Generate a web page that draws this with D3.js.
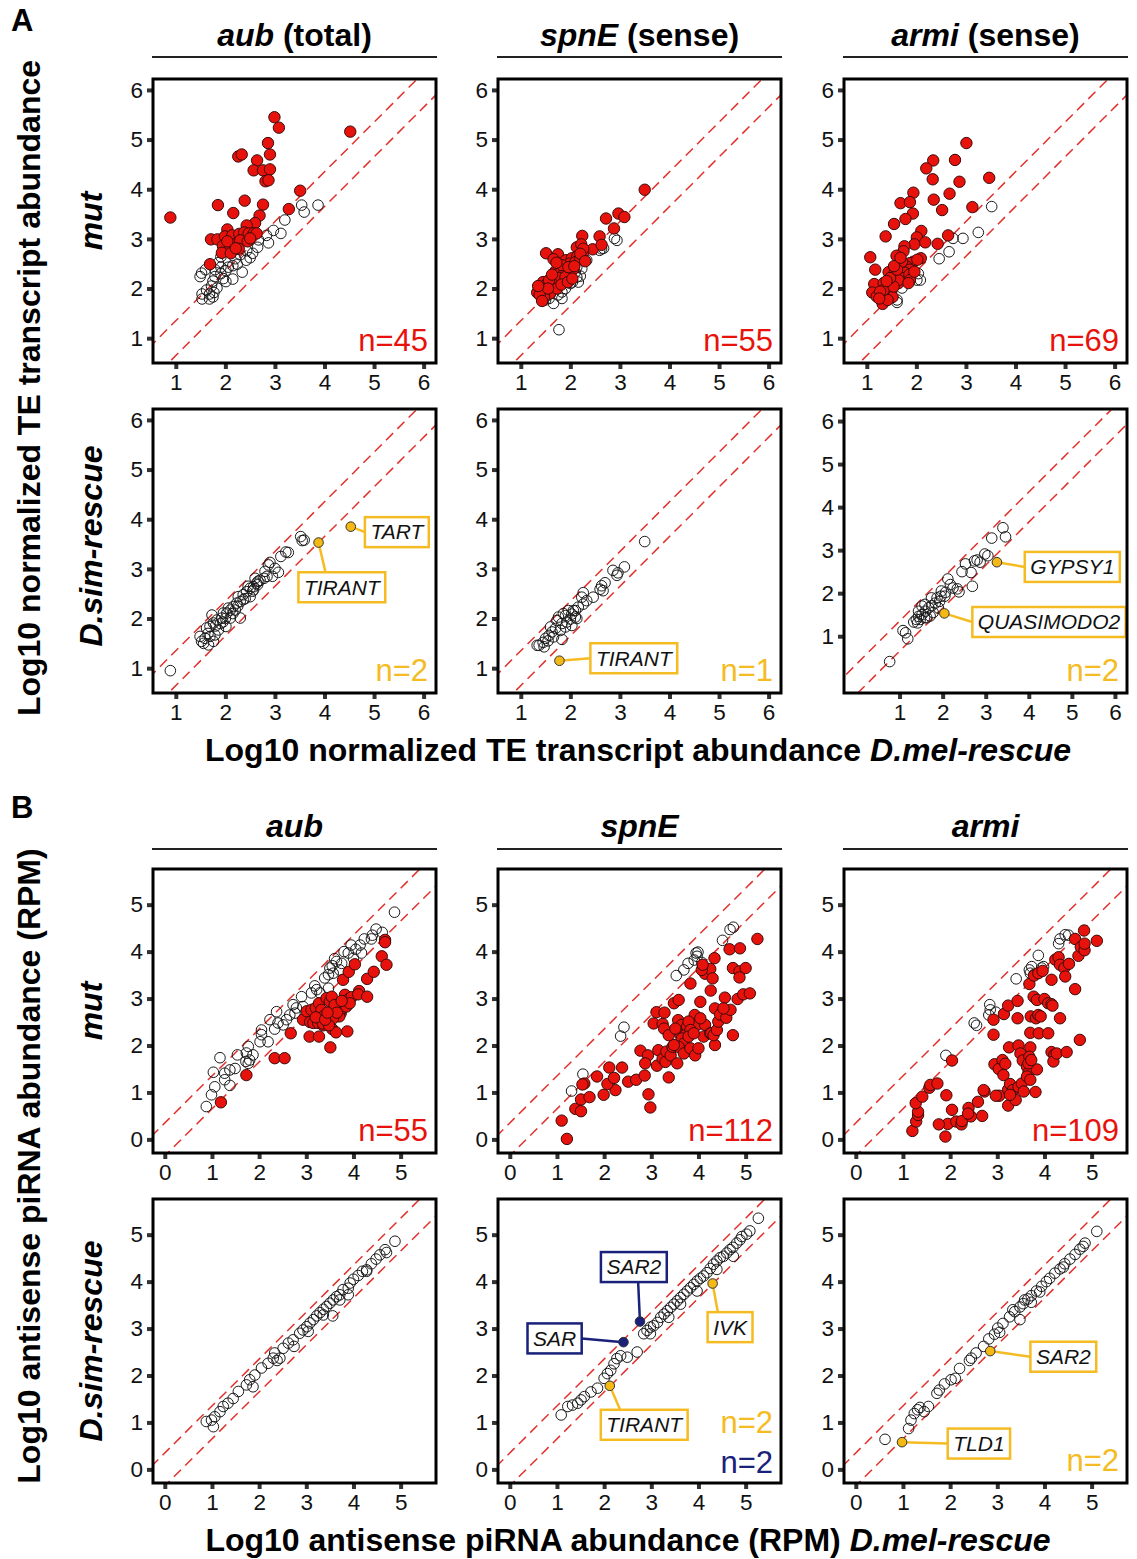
<!DOCTYPE html>
<html>
<head>
<meta charset="utf-8">
<script src="https://cdn.jsdelivr.net/npm/d3@7"></script>
<style>
  html, body { margin: 0; padding: 0; background: #fff; }
  svg { display: block; font-family: "Liberation Sans", Arial, sans-serif; }
</style>
</head>
<body>
<svg id="fig" width="1137" height="1559"></svg>
<script>
// ---- A: TE transcript abundance (log10), x = D.mel-rescue, y = mut / D.sim-rescue
const teAubMutUp = [[0.89,3.43],[2.99,5.45],[3.08,5.24],[4.52,5.16],[2.86,4.93],[2.26,4.66],[2.33,4.70],[2.64,4.58],[2.90,4.70],[2.57,4.38],[2.76,4.38],[2.90,4.40],[2.81,4.16],[2.87,4.18],[3.51,3.97],[1.85,3.68],[2.39,3.77],[2.76,3.69],[2.16,3.52],[3.28,3.60],[2.69,3.47],[2.60,3.32],[2.04,3.19],[2.43,3.27],[1.71,2.99],[1.84,2.99],[1.99,3.05],[2.14,3.07],[2.28,3.10],[2.38,3.13],[2.47,3.11],[2.57,3.11],[2.63,3.11],[1.95,2.86],[2.10,2.86],[2.23,2.91],[2.30,2.97],[1.93,2.72],[2.11,2.71],[2.27,2.80],[1.69,2.49],[2.45,2.95],[2.50,3.01],[2.04,2.95],[2.21,2.81]];
const teAubMutNs = [[3.87,3.68],[3.54,3.68],[3.59,3.54],[3.20,3.38],[3.12,3.11],[2.97,3.17],[2.83,3.07],[2.87,2.92],[2.67,2.98],[2.65,2.83],[2.55,2.71],[2.43,2.76],[2.42,2.57],[2.30,2.68],[2.34,2.33],[2.24,2.49],[2.15,2.46],[2.15,2.19],[2.06,2.43],[2.01,2.36],[2.01,2.14],[1.91,2.43],[1.91,2.30],[1.79,2.38],[1.79,2.24],[1.75,2.15],[1.72,2.05],[1.60,2.38],[1.49,2.24],[1.52,2.31],[1.83,2.01],[1.77,1.92],[1.68,1.89],[1.62,1.97],[1.53,1.89],[1.53,1.79],[1.68,1.79],[1.75,1.83],[1.91,2.64],[1.86,2.52],[2.50,2.62],[2.20,2.60],[1.96,2.20]];

const teSpnMutUp = [[3.50,3.99],[2.72,3.41],[2.97,3.51],[3.09,3.44],[2.88,3.21],[2.24,3.06],[2.59,3.05],[1.51,2.71],[1.75,2.69],[1.66,2.59],[2.13,2.83],[2.22,2.89],[2.45,2.79],[2.63,2.88],[1.91,2.57],[2.03,2.61],[2.14,2.65],[2.26,2.73],[1.98,2.50],[2.10,2.53],[2.20,2.60],[1.70,2.35],[1.82,2.37],[1.92,2.40],[1.86,2.28],[2.00,2.33],[2.06,2.39],[1.66,2.17],[1.78,2.21],[1.90,2.23],[1.45,2.13],[1.50,2.07],[1.63,2.10],[1.33,1.92],[1.40,2.00],[1.50,1.95],[1.59,1.90],[1.47,1.83],[1.38,1.87],[1.73,2.00],[1.82,2.08],[1.95,2.13],[2.04,2.20],[1.57,2.17],[1.83,2.47],[2.26,2.80],[1.55,2.00],[1.43,1.75],[1.63,2.28],[2.20,2.70],[1.96,2.43],[1.72,2.52],[2.30,2.55],[1.35,2.05],[2.08,2.45]];
const teSpnMutNs = [[1.77,1.17],[2.89,3.01],[2.94,2.97],[2.63,2.80],[2.67,2.81],[2.59,2.77],[2.33,2.57],[2.10,2.33],[2.13,2.23],[2.16,2.13],[1.96,2.23],[2.00,2.10],[1.90,2.00],[1.83,1.93],[1.83,1.80],[1.66,1.70],[1.57,1.80],[1.50,1.77],[1.75,1.87],[1.70,2.07],[2.04,2.13],[1.93,2.30],[2.23,2.40],[2.13,2.43],[2.04,2.40],[1.60,1.90],[2.20,2.25]];

const teArmiMutUp = [[3.01,4.93],[2.34,4.58],[2.78,4.59],[2.20,4.42],[2.33,4.20],[2.87,4.15],[3.47,4.23],[1.94,3.93],[1.68,3.72],[1.87,3.74],[2.35,3.79],[2.67,3.91],[2.52,3.58],[3.13,3.64],[1.93,3.51],[1.78,3.40],[1.55,3.30],[1.38,3.05],[2.10,3.16],[2.01,3.03],[1.96,2.89],[2.18,2.93],[2.64,3.07],[2.43,2.90],[1.76,2.85],[1.74,2.75],[1.60,2.66],[1.07,2.63],[1.17,2.38],[2.09,2.61],[1.94,2.54],[1.87,2.51],[1.65,2.48],[1.81,2.44],[1.87,2.38],[1.44,2.33],[1.57,2.34],[1.71,2.30],[1.77,2.32],[1.59,2.21],[1.74,2.21],[1.86,2.28],[1.15,2.09],[1.34,2.11],[1.46,2.11],[1.64,2.11],[1.11,1.92],[1.37,1.94],[1.50,1.97],[1.20,1.84],[1.46,1.87],[1.52,1.83],[1.32,1.69],[1.42,1.77],[1.64,2.17],[1.87,2.17],[1.96,2.34],[1.84,2.11],[1.34,1.97],[1.54,2.04],[1.71,2.54],[2.02,2.58],[1.47,2.21],[1.27,1.94],[1.61,2.38],[1.55,2.45],[1.40,2.15],[1.25,1.80],[1.68,2.62]];
const teArmiMutNs = [[3.52,3.65],[3.25,3.13],[2.94,3.01],[2.74,3.01],[2.66,2.74],[2.46,2.60],[2.04,2.30],[2.01,2.17],[2.08,2.17],[1.71,2.01],[1.61,1.77],[1.61,1.72],[1.50,2.11]];

const teAubSimNs = [[0.89,0.95],[3.52,3.65],[3.59,3.58],[3.55,3.57],[3.22,3.34],[3.27,3.33],[3.12,3.25],[2.90,3.13],[2.87,3.08],[3.00,3.01],[3.07,2.93],[2.95,2.85],[2.84,2.85],[2.78,2.81],[2.70,2.77],[2.63,2.71],[2.57,2.64],[2.50,2.61],[2.57,2.58],[2.43,2.54],[2.36,2.48],[2.26,2.44],[2.30,2.34],[2.23,2.31],[2.16,2.24],[2.10,2.17],[2.20,2.17],[2.03,2.11],[2.30,2.01],[2.10,2.01],[2.01,1.84],[1.93,2.01],[1.83,1.97],[1.76,1.91],[1.69,1.84],[1.62,1.81],[1.73,2.07],[1.86,1.77],[1.79,1.67],[1.69,1.64],[1.59,1.60],[1.49,1.64],[1.52,1.54],[1.66,1.47],[1.56,1.50],[1.76,1.54],[2.50,2.44],[2.36,2.38],[2.60,2.81],[1.96,2.11],[2.06,2.21],[2.46,2.65],[2.66,2.75],[2.80,2.95],[1.80,1.85],[1.90,1.90],[2.00,2.00],[2.15,2.10],[2.40,2.40],[2.55,2.55],[1.65,1.70],[1.95,1.93],[2.25,2.25],[2.65,2.68]];
const teAubSimHit = [[4.53,3.85],[3.88,3.53]];
const teAubSimHitNames = ["TART", "TIRANT"];

const teSpnSimNs = [[3.50,3.55],[3.09,3.04],[2.94,2.87],[2.86,2.97],[2.96,2.92],[2.70,2.72],[2.63,2.66],[2.60,2.59],[2.66,2.56],[2.46,2.43],[2.33,2.36],[2.26,2.29],[2.23,2.43],[2.16,2.23],[2.10,2.16],[2.03,2.09],[2.10,2.03],[2.00,1.99],[1.93,1.93],[1.83,1.90],[1.73,1.96],[1.90,1.83],[1.80,1.76],[1.70,1.80],[1.63,1.73],[1.57,1.66],[1.50,1.60],[1.83,1.58],[1.37,1.46],[1.47,1.43],[1.33,1.46],[1.96,2.16],[1.90,2.06],[1.76,2.03],[1.66,1.63],[1.60,1.83],[2.26,2.52],[2.13,2.00],[2.03,1.86],[2.06,2.16],[1.55,1.55],[1.45,1.52],[1.86,2.10]];
const teSpnSimHit = [[1.78,1.15]];
const teSpnSimHitNames = ["TIRANT"];

const teArmiSimNs = [[0.77,0.41],[1.08,1.13],[1.14,1.08],[1.19,0.94],[3.40,3.52],[3.46,3.31],[3.14,3.28],[2.98,2.91],[3.05,2.87],[2.87,2.72],[2.74,2.75],[2.80,2.77],[2.53,2.68],[2.66,2.48],[2.45,2.50],[2.69,2.16],[2.12,2.33],[2.18,2.20],[2.34,2.10],[2.38,2.03],[2.24,2.12],[2.07,2.02],[1.96,1.93],[1.87,1.89],[1.93,1.81],[1.83,1.77],[1.75,1.71],[1.68,1.66],[1.60,1.58],[1.52,1.50],[1.44,1.46],[1.39,1.39],[1.33,1.33],[1.42,1.31],[1.48,1.39],[1.58,1.43],[1.78,1.55],[1.71,1.47],[1.63,1.43],[1.90,1.66],[2.05,1.93],[1.97,2.05],[1.74,1.89],[1.59,1.74],[1.44,1.58],[1.52,1.70]];
const teArmiSimHit = [[3.26,2.72],[2.04,1.53]];
const teArmiSimHitNames = ["GYPSY1", "QUASIMODO2"];

// ---- B: antisense piRNA abundance (log10 RPM)
const piAubMutDown = [[1.19,0.79],[1.73,1.37],[2.33,1.73],[2.54,1.73],[2.67,2.26],[3.07,2.19],[3.27,2.19],[3.51,1.96],[3.55,2.35],[3.63,2.28],[3.87,2.30],[2.93,2.55],[3.08,2.50],[3.15,2.48],[3.25,2.48],[3.36,2.43],[3.01,2.73],[3.11,2.76],[3.20,2.80],[3.27,2.90],[3.32,2.76],[3.38,2.63],[3.43,3.01],[3.50,2.94],[3.54,3.04],[3.68,2.83],[3.73,2.69],[3.70,2.62],[3.78,2.80],[3.82,3.08],[3.90,2.99],[3.96,3.03],[3.78,3.40],[3.90,3.57],[4.03,3.73],[4.12,3.16],[4.10,3.09],[4.29,3.04],[4.29,3.42],[4.43,3.57],[4.60,3.90],[4.70,3.72],[4.67,4.25],[4.67,4.20],[3.35,2.47],[3.85,2.83],[3.92,2.90],[3.60,2.86],[3.57,2.58],[3.48,2.43],[3.20,2.60],[3.40,2.55],[3.65,2.70],[3.75,2.95],[3.45,2.70]];
const piAubMutNs = [[4.87,4.84],[4.48,4.48],[4.61,4.41],[4.38,4.27],[4.23,4.27],[4.14,4.14],[3.95,4.14],[3.80,4.00],[3.89,3.97],[4.00,3.86],[4.17,3.97],[3.64,3.79],[3.71,3.61],[3.50,3.65],[3.57,3.54],[3.47,3.51],[3.39,3.44],[3.47,3.22],[3.18,3.27],[3.22,3.19],[3.29,3.12],[3.11,3.12],[2.90,3.04],[2.93,2.83],[2.79,2.80],[2.72,2.87],[2.76,2.69],[2.65,2.65],[2.58,2.55],[2.51,2.44],[2.40,2.48],[2.37,2.72],[2.33,2.35],[2.23,2.55],[2.19,2.08],[2.05,2.33],[2.05,2.23],[2.02,2.08],[1.77,1.98],[1.73,1.84],[1.87,1.80],[1.80,1.69],[1.77,1.62],[1.72,1.66],[1.54,1.80],[1.49,1.51],[1.38,1.48],[1.27,1.41],[1.27,1.27],[1.38,1.15],[1.17,1.74],[1.03,1.43],[1.06,1.12],[0.99,0.95],[0.88,0.70],[3.55,3.70],[3.60,3.85],[3.75,3.75],[4.05,4.05],[4.40,4.35]];

const piSpnMutDown = [[1.21,0.01],[1.10,0.40],[1.39,0.65],[1.51,0.60],[1.51,0.85],[1.69,0.90],[1.99,0.95],[2.24,1.05],[1.58,1.19],[1.54,1.17],[1.85,1.34],[2.11,1.53],[2.07,1.18],[2.21,1.31],[2.38,1.53],[2.51,1.23],[2.68,1.27],[2.86,1.36],[2.94,0.96],[2.98,0.68],[2.77,1.89],[2.93,1.79],[2.87,1.62],[3.12,1.57],[3.15,1.90],[3.24,1.72],[3.37,1.32],[3.30,1.65],[3.32,1.87],[3.41,1.79],[3.45,1.97],[3.55,1.62],[3.05,2.47],[3.24,2.46],[3.11,2.71],[3.28,2.70],[3.48,2.90],[3.58,2.97],[3.83,3.32],[3.57,2.54],[3.65,2.44],[3.69,2.29],[3.62,2.22],[3.76,2.40],[3.72,2.22],[3.65,2.15],[3.69,2.04],[3.58,1.97],[3.48,2.01],[3.69,1.83],[3.83,1.94],[3.93,1.79],[4.00,1.94],[3.92,2.65],[3.97,2.44],[4.14,2.44],[4.11,2.19],[4.25,2.26],[4.35,2.01],[3.79,2.51],[3.83,2.33],[3.79,2.19],[3.90,2.26],[4.04,2.58],[4.27,2.26],[4.32,2.22],[4.39,2.33],[4.42,2.51],[4.35,2.79],[4.46,2.66],[4.59,2.59],[4.68,2.76],[4.73,2.22],[4.14,3.53],[4.25,3.63],[4.34,3.86],[4.30,3.43],[4.26,3.17],[4.07,3.61],[4.09,3.72],[4.56,3.02],[4.83,2.99],[4.95,3.09],[5.09,3.11],[4.66,4.05],[4.88,4.07],[4.73,3.65],[4.87,3.58],[5.00,3.65],[4.87,3.45],[5.25,4.27],[3.27,2.36],[3.37,2.22],[3.51,2.36],[4.04,2.93],[4.53,2.79]];
const piSpnMutNs = [[1.31,1.03],[1.55,1.39],[2.35,2.20],[2.42,2.39],[3.53,3.49],[3.69,3.61],[3.78,3.75],[3.91,3.82],[3.97,3.90],[3.95,3.97],[3.99,3.99],[4.07,3.77],[4.51,4.24],[4.67,4.47],[4.74,4.52]];

const piArmiMutDown = [[1.20,0.18],[1.28,0.38],[1.32,0.52],[1.32,0.59],[1.27,0.77],[1.41,0.91],[1.56,1.10],[1.58,1.16],[1.73,1.19],[1.92,0.94],[2.04,0.63],[1.95,0.33],[1.76,0.32],[1.90,0.06],[2.13,0.38],[2.24,0.32],[2.25,0.39],[2.39,0.67],[2.44,0.49],[2.38,0.55],[2.59,0.80],[2.68,0.50],[2.73,1.02],[2.04,1.68],[2.92,2.23],[2.94,1.60],[3.03,1.50],[3.04,0.93],[3.11,1.69],[3.17,1.61],[3.13,1.37],[3.23,1.06],[3.23,0.72],[3.27,1.18],[3.33,1.05],[3.39,0.84],[3.27,0.95],[3.45,1.12],[3.52,1.19],[3.56,1.02],[3.25,1.96],[3.45,2.00],[3.49,1.83],[3.54,1.68],[3.70,1.96],[3.68,1.76],[3.63,1.55],[3.66,1.42],[3.63,1.34],[3.70,1.27],[3.84,1.49],[3.81,1.01],[2.92,2.55],[3.14,2.67],[3.23,2.85],[3.43,2.58],[3.43,2.95],[3.68,3.31],[3.78,3.49],[3.87,3.54],[3.96,3.59],[3.71,2.62],[3.82,2.58],[3.87,2.65],[3.92,2.62],[3.70,2.27],[3.88,2.26],[4.08,2.26],[3.77,3.04],[3.84,2.97],[4.00,2.99],[4.08,2.90],[4.15,2.88],[4.17,2.85],[4.33,2.58],[4.15,1.86],[4.21,1.80],[4.19,1.66],[4.26,1.83],[4.47,1.86],[4.75,2.12],[4.15,3.40],[4.23,3.83],[4.30,3.88],[4.33,3.72],[4.42,3.65],[4.44,3.47],[4.52,3.74],[4.65,3.20],[4.65,4.27],[4.72,3.91],[4.77,4.10],[4.85,4.03],[4.85,4.17],[5.11,4.23],[4.84,4.45],[2.71,1.05],[2.97,0.93],[3.66,1.62],[3.72,1.69]];
const piArmiMutNs = [[1.91,1.79],[2.51,2.48],[2.56,2.43],[2.84,2.87],[2.85,2.76],[2.97,2.71],[2.82,2.65],[3.40,3.42],[3.68,3.61],[3.70,3.54],[3.73,3.68],[3.78,3.51],[3.87,3.92],[3.94,3.65],[3.98,3.68],[4.30,4.17],[4.33,4.27],[4.44,4.36],[4.51,4.35]];

const piAubSimNs = [[4.88,4.86],[4.67,4.68],[4.70,4.62],[4.56,4.57],[4.48,4.48],[4.38,4.38],[4.28,4.25],[4.19,4.22],[4.10,4.13],[4.00,4.05],[3.93,3.97],[3.89,3.86],[3.78,3.83],[3.71,3.72],[3.64,3.68],[3.57,3.61],[3.50,3.54],[3.43,3.47],[3.36,3.41],[3.29,3.34],[3.22,3.27],[3.15,3.19],[3.08,3.12],[3.01,3.04],[2.93,2.97],[2.86,2.90],[2.72,2.76],[2.62,2.69],[2.51,2.58],[2.33,2.48],[2.30,2.37],[2.19,2.26],[2.05,2.16],[1.91,2.01],[1.80,1.91],[1.73,1.80],[1.56,1.66],[1.45,1.51],[1.34,1.41],[1.24,1.34],[1.17,1.23],[1.06,1.12],[0.99,1.05],[1.03,0.91],[0.88,1.02],[3.56,3.27],[2.74,2.62],[2.38,2.32],[2.44,2.37],[3.89,3.72],[4.28,4.22],[1.87,1.76],[3.71,3.61],[3.36,3.29],[3.04,2.94]];

const piSpnSimNs = [[5.27,5.35],[5.09,5.08],[5.02,5.01],[4.92,4.96],[4.88,4.89],[4.81,4.82],[4.73,4.73],[4.67,4.68],[4.60,4.61],[4.53,4.54],[4.46,4.51],[4.39,4.44],[4.32,4.37],[4.25,4.28],[4.18,4.19],[4.11,4.12],[4.04,4.07],[3.97,4.01],[3.90,3.94],[3.83,3.87],[3.76,3.80],[3.69,3.73],[3.62,3.66],[3.55,3.59],[3.48,3.52],[3.41,3.45],[3.34,3.38],[3.27,3.31],[3.20,3.24],[3.13,3.13],[3.05,3.06],[2.98,3.03],[2.91,2.96],[2.84,2.89],[2.70,2.50],[2.49,2.39],[2.35,2.42],[2.27,2.36],[2.21,2.25],[2.14,2.11],[2.07,2.04],[2.00,1.94],[1.86,1.73],[1.72,1.65],[1.58,1.55],[1.51,1.48],[1.44,1.41],[1.33,1.37],[1.23,1.34],[1.09,1.16],[4.74,4.54],[4.39,4.26],[3.97,3.80],[3.62,3.52],[3.37,3.24],[2.98,2.89]];
const piSpnSimHit = [[4.30,3.96],[2.12,1.78]];
const piSpnSimHitNames = ["IVK", "TIRANT"];
const piSpnSimHitBlue = [[2.76,3.15],[2.41,2.71]];
const piSpnSimHitBlueNames = ["SAR2", "SAR"];

const piArmiSimNs = [[5.11,5.07],[0.62,0.64],[1.12,0.87],[1.17,1.05],[1.24,1.19],[1.31,1.27],[1.36,1.32],[1.54,1.34],[1.45,1.23],[1.72,1.62],[1.77,1.69],[1.88,1.82],[2.02,1.91],[2.11,1.94],[2.20,2.15],[2.41,2.32],[2.45,2.37],[2.55,2.48],[2.71,2.62],[2.82,2.78],[2.94,2.88],[3.01,3.01],[3.12,3.11],[3.26,3.25],[3.37,3.36],[3.48,3.46],[3.55,3.53],[3.65,3.63],[3.72,3.70],[3.83,3.80],[3.94,3.90],[4.04,4.00],[4.11,4.07],[4.22,4.18],[4.33,4.27],[4.43,4.38],[4.54,4.48],[4.65,4.58],[4.75,4.69],[4.82,4.75],[4.86,4.82],[3.48,3.19],[3.72,3.56],[3.90,3.78],[3.05,2.92],[3.33,3.40],[3.58,3.61],[4.40,4.31]];
const piArmiSimHit = [[2.85,2.52],[0.98,0.58]];
const piArmiSimHitNames = ["SAR2", "TLD1"];

// ---- axes
const ticksTE = [1, 2, 3, 4, 5, 6];
const ticksPi = [0, 1, 2, 3, 4, 5];
const domTE = [[0.54, 6.25], [0.5, 6.22]];
const domTEwide = [[-0.29, 6.28], [-0.32, 6.28]];
const domPi = [[-0.25, 5.75], [-0.29, 5.76]];
const foldBand = 0.35;

const RED = '#e8120c', GOLD = '#f5bb22', NAVY = '#19217a';

const colX = [153, 498, 844];
const rowY = [79, 409, 869, 1199];
const PW = 283, PH = 284;

// label box spots (data units of each panel) and which side the leader enters
const labelSpots = {
  'TART': { at: [5.46, 3.74], side: 'left' },
  'TIRANT@3': { at: [4.35, 2.63], side: 'top' },
  'TIRANT@4': { at: [3.28, 1.20], side: 'left' },
  'GYPSY1': { at: [5.01, 2.61], side: 'left' },
  'QUASIMODO2': { at: [4.47, 1.33], side: 'left' },
  'IVK': { at: [4.67, 3.03], side: 'top' },
  'TIRANT@10': { at: [2.85, 0.95], side: 'top' },
  'SAR2@10': { at: [2.63, 4.31], side: 'bottom' },
  'SAR': { at: [0.95, 2.79], side: 'right' },
  'SAR2@11': { at: [4.40, 2.40], side: 'left' },
  'TLD1': { at: [2.61, 0.55], side: 'left' }
};

const panels = [
  { r: 0, c: 0, dom: domTE, ticks: ticksTE, ns: teAubMutNs, sig: teAubMutUp, n: [['n=45', RED]] },
  { r: 0, c: 1, dom: domTE, ticks: ticksTE, ns: teSpnMutNs, sig: teSpnMutUp, n: [['n=55', RED]] },
  { r: 0, c: 2, dom: domTE, ticks: ticksTE, ns: teArmiMutNs, sig: teArmiMutUp, n: [['n=69', RED]] },
  { r: 1, c: 0, dom: domTE, ticks: ticksTE, ns: teAubSimNs, hit: teAubSimHit, hitNames: teAubSimHitNames, n: [['n=2', GOLD]] },
  { r: 1, c: 1, dom: domTE, ticks: ticksTE, ns: teSpnSimNs, hit: teSpnSimHit, hitNames: teSpnSimHitNames, n: [['n=1', GOLD]] },
  { r: 1, c: 2, dom: domTEwide, ticks: ticksTE, ns: teArmiSimNs, hit: teArmiSimHit, hitNames: teArmiSimHitNames, n: [['n=2', GOLD]] },
  { r: 2, c: 0, dom: domPi, ticks: ticksPi, ns: piAubMutNs, sig: piAubMutDown, n: [['n=55', RED]] },
  { r: 2, c: 1, dom: domPi, ticks: ticksPi, ns: piSpnMutNs, sig: piSpnMutDown, n: [['n=112', RED]] },
  { r: 2, c: 2, dom: domPi, ticks: ticksPi, ns: piArmiMutNs, sig: piArmiMutDown, n: [['n=109', RED]] },
  { r: 3, c: 0, dom: domPi, ticks: ticksPi, ns: piAubSimNs, n: [] },
  { r: 3, c: 1, dom: domPi, ticks: ticksPi, ns: piSpnSimNs, hit: piSpnSimHit, hitNames: piSpnSimHitNames,
    hitBlue: piSpnSimHitBlue, hitBlueNames: piSpnSimHitBlueNames, n: [['n=2', GOLD, 50], ['n=2', NAVY, 10]] },
  { r: 3, c: 2, dom: domPi, ticks: ticksPi, ns: piArmiSimNs, hit: piArmiSimHit, hitNames: piArmiSimHitNames, n: [['n=2', GOLD]] }
];

const svg = d3.select('#fig');
const defs = svg.append('defs');

panels.forEach((p, i) => {
  const x = d3.scaleLinear().domain(p.dom[0]).range([0, PW]);
  const y = d3.scaleLinear().domain(p.dom[1]).range([PH, 0]);
  const g = svg.append('g').attr('transform', `translate(${colX[p.c]},${rowY[p.r]})`);

  defs.append('clipPath').attr('id', 'clip' + i)
    .append('rect').attr('width', PW).attr('height', PH);

  // axes
  const xa = g.append('g').attr('transform', `translate(0,${PH})`)
    .call(d3.axisBottom(x).tickValues(p.ticks).tickFormat(d3.format('d'))
      .tickSize(6).tickSizeOuter(0).tickPadding(5));
  const ya = g.append('g')
    .call(d3.axisLeft(y).tickValues(p.ticks).tickFormat(d3.format('d'))
      .tickSize(6).tickSizeOuter(0).tickPadding(4));
  [xa, ya].forEach(a => {
    a.select('.domain').remove();
    a.selectAll('.tick line').attr('stroke', '#333').attr('stroke-width', 4);
    a.selectAll('.tick text').attr('fill', '#111')
      .style('font-size', '22.5px').style('font-family', '"Liberation Sans", Arial, sans-serif');
  });

  const plot = g.append('g').attr('clip-path', `url(#clip${i})`);

  // 2-fold guide lines
  [foldBand, -foldBand].forEach(cst => {
    const x0 = p.dom[0][0] - 1, x1 = p.dom[0][1] + 1;
    plot.append('line')
      .attr('x1', x(x0)).attr('y1', y(x0 + cst))
      .attr('x2', x(x1)).attr('y2', y(x1 + cst))
      .attr('stroke', '#e2302c').attr('stroke-width', 1.5)
      .attr('stroke-dasharray', '10,6');
  });

  plot.append('g').selectAll('circle').data(p.ns).join('circle')
    .attr('cx', d => x(d[0])).attr('cy', d => y(d[1])).attr('r', 5.3)
    .attr('fill', 'none').attr('stroke', '#1a1a1a').attr('stroke-width', 1);

  if (p.sig) {
    plot.append('g').selectAll('circle').data(p.sig).join('circle')
      .attr('cx', d => x(d[0])).attr('cy', d => y(d[1])).attr('r', 5.7)
      .attr('fill', RED).attr('stroke', '#3a0a0a').attr('stroke-width', 1);
  }

  // labelled hits
  const hitSets = [];
  if (p.hit) hitSets.push([p.hit, p.hitNames, GOLD, '#f5b915']);
  if (p.hitBlue) hitSets.push([p.hitBlue, p.hitBlueNames, NAVY, NAVY]);
  hitSets.forEach(([pts, names, col, fillCol]) => {
    pts.forEach((d, k) => {
      const name = names[k];
      const spot = labelSpots[name + '@' + i] || labelSpots[name];
      const px = x(d[0]), py = y(d[1]);
      const bx = x(spot.at[0]), by = y(spot.at[1]);
      const lg = g.append('g');
      const leader = lg.append('line');
      const box = lg.append('rect');
      const t = lg.append('text').attr('x', bx).attr('y', by).attr('dy', '0.35em')
        .attr('text-anchor', 'middle').style('font-size', '21px').style('font-style', 'italic')
        .attr('fill', '#111').text(name);
      const bw = t.node().getComputedTextLength() + 11, bh = 30;
      const left = bx - bw / 2, top = by - bh / 2;
      let ex, ey;
      if (spot.side === 'left') { ex = left; ey = by; }
      else if (spot.side === 'right') { ex = left + bw; ey = by; }
      else if (spot.side === 'top') { ex = px + 0.3 * (bx - px); ey = top; }
      else { ex = px + 0.3 * (bx - px); ey = top + bh; }
      leader.attr('x1', px).attr('y1', py).attr('x2', ex).attr('y2', ey)
        .attr('stroke', col).attr('stroke-width', 2.5);
      box.attr('x', left).attr('y', top).attr('width', bw).attr('height', bh)
        .attr('fill', '#fff').attr('stroke', col).attr('stroke-width', 2.5);
      lg.append('circle').attr('cx', px).attr('cy', py).attr('r', 4.8)
        .attr('fill', fillCol).attr('stroke', '#333').attr('stroke-width', 1);
    });
  });

  // frame
  g.append('rect').attr('width', PW).attr('height', PH)
    .attr('fill', 'none').attr('stroke', '#000').attr('stroke-width', 3);

  // counts
  p.n.forEach(([txt, col, off]) => {
    g.append('text').attr('x', PW - 8).attr('y', PH - (off || 12))
      .attr('text-anchor', 'end').attr('fill', col).style('font-size', '31px').text(txt);
  });
});

// column headers
const headA = [['aub', ' (total)'], ['spnE', ' (sense)'], ['armi', ' (sense)']];
const headB = [['aub', ''], ['spnE', ''], ['armi', '']];
[[headA, 46, 57], [headB, 837, 849]].forEach(([heads, base, lineY]) => {
  heads.forEach((h, c) => {
    const t = svg.append('text').attr('x', colX[c] + PW / 2).attr('y', base)
      .attr('text-anchor', 'middle').style('font-size', '32px').style('font-weight', 'bold');
    t.append('tspan').style('font-style', 'italic').text(h[0]);
    if (h[1]) t.append('tspan').text(h[1]);
    svg.append('line').attr('x1', colX[c] - 1).attr('x2', colX[c] + PW + 1)
      .attr('y1', lineY).attr('y2', lineY).attr('stroke', '#222').attr('stroke-width', 2);
  });
});

// row labels
[['mut', 221], ['D.sim-rescue', 546], ['mut', 1011], ['D.sim-rescue', 1341]].forEach(([lab, cy]) => {
  svg.append('text').attr('transform', `translate(102,${cy}) rotate(-90)`)
    .attr('text-anchor', 'middle').style('font-size', '32px')
    .style('font-weight', 'bold').style('font-style', 'italic').text(lab);
});

// axis titles
[['Log10 normalized TE transcript abundance', 388], ['Log10 antisense piRNA abundance (RPM)', 1166]].forEach(([lab, cy]) => {
  svg.append('text').attr('transform', `translate(40,${cy}) rotate(-90)`)
    .attr('text-anchor', 'middle').style('font-size', '32px').style('font-weight', 'bold').text(lab);
});
[['Log10 normalized TE transcript abundance ', 638, 761], ['Log10 antisense piRNA abundance (RPM) ', 628, 1551]].forEach(([lab, cx, base]) => {
  const t = svg.append('text').attr('x', cx).attr('y', base)
    .attr('text-anchor', 'middle').style('font-size', '32px').style('font-weight', 'bold');
  t.append('tspan').text(lab);
  t.append('tspan').style('font-style', 'italic').text('D.mel-rescue');
});

// panel letters
[['A', 31], ['B', 818]].forEach(([l, base]) => {
  svg.append('text').attr('x', 11).attr('y', base)
    .style('font-size', '31px').style('font-weight', 'bold').text(l);
});
</script>
</body>
</html>
